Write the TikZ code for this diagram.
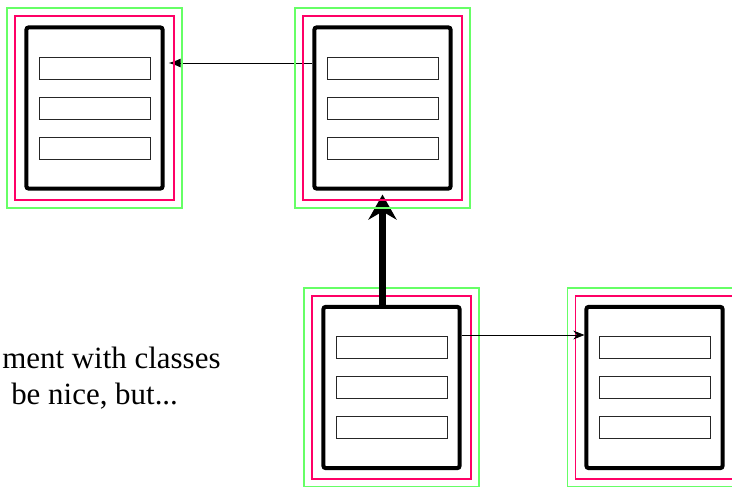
\documentclass[tikz,border=0pt]{standalone}
\usepackage{fontspec}
\setmainfont{Liberation Serif}
\usepackage{tikz}
\usetikzlibrary{arrows.meta}

\definecolor{pinkframe}{HTML}{FF0066}
\definecolor{greenframe}{HTML}{66FF66}

\tikzset{
	classbox/.style={draw, line width=0.1cm, rounded corners=0.05cm, inner sep=0,
		minimum width=3.4cm, minimum height=4.025cm},
	field/.style={draw=black!85, line width=0.7pt},
	selframe/.style={draw=pinkframe, line width=1.4pt},
	hoverframe/.style={draw=greenframe, line width=1.4pt},
	link/.style={line width=0.6pt},
}

\begin{document}
\begin{tikzpicture}[x=0.025cm, y=-0.025cm]
		\clip (0,0) rectangle (732,487);
		\node[classbox] (A) at (94.5,108) {};
		\node[classbox] (B) at (382.5,108) {};
		\node[classbox] (C) at (391.5,387.5) {};
		\node[classbox] (D) at (654.5,387.5) {};
		\foreach \n in {A,B,C,D}
			\foreach \dy in {-40,0,40}
				\draw[field] ([shift={(-55.5,\dy-11)}]\n.center) rectangle ([shift={(55.5,\dy+11)}]\n.center);
		\foreach \n in {C,D} {
			\draw[selframe] ([shift={(-9,-9)}]\n.north west) rectangle ([shift={(9,9)}]\n.south east);
			\draw[hoverframe] ([shift={(-17,-17)}]\n.north west) rectangle ([shift={(17,17)}]\n.south east);
		}
		\draw[link, -{Latex[length=0.3cm, width=0.22cm]}, shorten >=0.1cm] ([shift={(0,-45)}]B.west) -- ([shift={(0,-45)}]A.east);
		\draw[line width=0.175cm, -{Stealth[length=0.625cm, width=0.7cm, inset=0.2cm]}, shorten >=0.1cm] (C.north -| B.south) -- (B.south);
		\draw[link, -{Stealth[length=0.28cm, width=0.22cm, inset=0.09cm]}] ([shift={(0,-52.5)}]C.east) -- ([shift={(0,-52.5)}]D.west);
		\foreach \n in {A,B} {
			\draw[selframe] ([shift={(-9,-9)}]\n.north west) rectangle ([shift={(9,9)}]\n.south east);
			\draw[hoverframe] ([shift={(-17,-17)}]\n.north west) rectangle ([shift={(17,17)}]\n.south east);
		}
		\node[anchor=base west, inner sep=0, font=\fontsize{22}{26}\selectfont] (note1) at (2,368) {ment with classes};
		\node[anchor=base west, inner sep=0, font=\fontsize{22}{26}\selectfont] (note2) at (11,404) {be nice, but...};
	\end{tikzpicture}
\end{document}
